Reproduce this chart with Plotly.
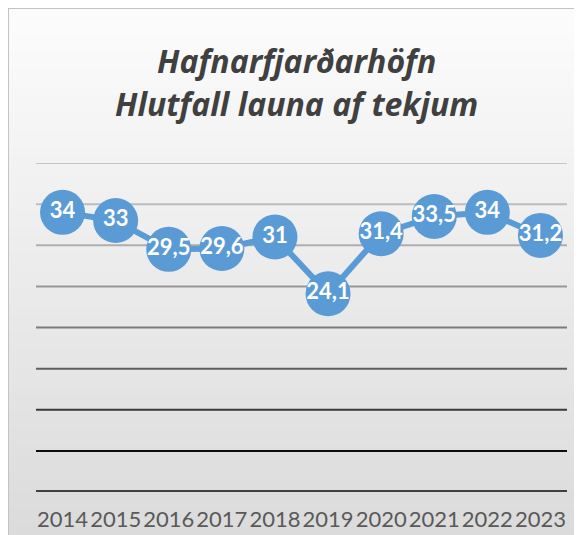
import plotly.graph_objects as go

years = ["2014", "2015", "2016", "2017", "2018", "2019", "2020", "2021", "2022", "2023"]
values = [34, 33, 29.5, 29.6, 31, 24.1, 31.4, 33.5, 34, 31.2]
grid_values = [5, 10, 15, 20, 25, 30, 35, 40]
grid_colors = ["#0d0d0d", "#3a3a3a", "#5e5e5e", "#7b7b7b", "#979797", "#aeaeae", "#bdbdbd", "#c6c6c6"]
title_lines = ["Hafnarfjarðarhöfn", "Hlutfall launa af tekjum"]

OFF = 8  # page body margin in the browser
SW, SH = 582, 535  # screen size
W, H = SW - OFF, SH - OFF
ML, MR, MT, MB = 36 - OFF, 15, 163 - OFF, 43
PW, PH = W - ML - MR, H - MT - MB


def px_x(px):  # screen px -> paper
    return (px - OFF - ML) / PW


def px_y(py):  # screen px -> paper
    return (SH - MB - py) / PH


def fmt(v):
    return str(int(v)) if float(v).is_integer() else str(v).replace(".", ",")


shapes = []
# background vertical gradient
n = 60
for i in range(n):
    t = i / (n - 1)
    c = round(252 - (252 - 219) * t)
    y0 = OFF + i * H / n - 0.5
    y1 = OFF + (i + 1) * H / n + 0.5
    shapes.append(dict(type="rect", xref="paper", yref="paper", layer="below",
                       x0=px_x(0), x1=px_x(SW + 5), y0=px_y(y1), y1=px_y(y0),
                       line=dict(width=0), fillcolor=f"rgb({c},{c},{c})"))
# frame border (left and top visible)
shapes.append(dict(type="line", xref="paper", yref="paper", layer="below",
                   x0=px_x(8), x1=px_x(8), y0=px_y(8), y1=px_y(SH + 5),
                   line=dict(color="#c3c3c3", width=2)))
shapes.append(dict(type="line", xref="paper", yref="paper", layer="below",
                   x0=px_x(8), x1=px_x(SW + 5), y0=px_y(8), y1=px_y(8),
                   line=dict(color="#c3c3c3", width=2)))
# gridlines
for gv, gc in zip(grid_values, grid_colors):
    shapes.append(dict(type="line", xref="paper", yref="y", layer="below",
                       x0=0, x1=1, y0=gv, y1=gv, line=dict(color=gc, width=2)))
# baseline
shapes.append(dict(type="line", xref="paper", yref="y", layer="below",
                   x0=0, x1=1, y0=0, y1=0, line=dict(color="#404040", width=4)))

fig = go.Figure()
fig.add_trace(go.Scatter(
    x=years, y=values, mode="lines+markers+text",
    line=dict(color="#5b9bd5", width=6),
    marker=dict(color="#5b9bd5", size=45, line=dict(width=0)),
    text=[fmt(v) for v in values], textposition="middle center",
    textfont=dict(family="Lato", size=22, color="white", weight="bold"),
    hoverinfo="skip", cliponaxis=False,
))

for line, yc in zip(title_lines, [60, 104]):
    fig.add_annotation(xref="paper", yref="paper", x=px_x(296), y=px_y(yc),
                       text=line, showarrow=False, xanchor="center", yanchor="middle",
                       font=dict(family="Open Sans", size=32, color="#404040",
                                 weight="bold", style="italic"))

fig.update_layout(
    width=W, height=H,
    margin=dict(l=ML, r=MR, t=MT, b=MB, autoexpand=False),
    paper_bgcolor="white", plot_bgcolor="rgba(0,0,0,0)",
    showlegend=False, shapes=shapes,
    xaxis=dict(type="category", range=[-0.5, 9.5], showgrid=False, zeroline=False,
               showline=False, ticks="", ticklabelstandoff=12, tickangle=0, automargin=False,
               tickfont=dict(family="Lato", size=22, color="#595959"),
               fixedrange=True),
    yaxis=dict(range=[0, 40], showgrid=False, zeroline=False, showline=False, automargin=False,
               showticklabels=False, ticks="", fixedrange=True),
)
fig.write_html("out.html")
